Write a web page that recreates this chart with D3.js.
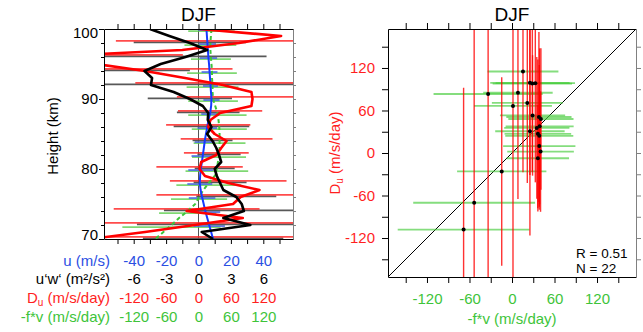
<!DOCTYPE html>
<html>
<head>
<meta charset="utf-8">
<script src="https://cdn.jsdelivr.net/npm/d3@7"></script>
<style>
body { margin: 0; background: #fff; }
svg { font-family: "Liberation Sans", Arial, sans-serif; }
</style>
</head>
<body>
<svg id="chart" width="643" height="332"></svg>
<script>
// profiles, one value per km from 100 down to 70
const HEIGHTS = d3.range(100, 69, -1);
const U  = [4.9, 5.2, 5.5, 5.8, 6.1, 6.5, 6.8, 7.1, 7.4, 7.7, 8.0, 7.8, 7.2, 6.2, 5.4, 4.6,
            3.85, 3.3, 2.7, 2.1, 1.4, 1.0, 0.8, 1.3, 2.2, 3.2, 4.2, 5.4, 6.6, 7.8, 9.0];
const UW = [-4.5, -2.7, -0.8, 0.8, -1.2, -3.5, -5.0, -4.3, -4.4, -2.3, -0.8, 0.4, 0.9, 0.86, 1.2, 0.8,
            1.3, 1.65, 1.9, 2.1, 1.5, 1.7, 2.0, 2.3, 3.5, 4.0, 4.2, 2.3, 4.8, 0.3, 1.35];
const DU = [2, 153, 75, -30, -300, -190, -99, -25, 45, 98, 100, 98, 40, 22, 18, 30,
            52, 42, 33, 5, 2, 12, 55, 113, 78, 64, -22, 82, -7, -99, -200];
const FV = [24, 23, 22, 22, 23, 24, 25, 25, 26, 26, 27, 31, 35, 37, 38.5, 39,
            39, 39, 38, 36, 34, 30, 19, 9, 1, -6, -20, -36, -50, -65, -80];

// error bars every 2 km
const BAR_HEIGHTS = d3.range(100, 69, -2);
const U_ERR  = [5, 5.3, 5.4, 4.9, 4.6, 5, 5.5, 6, 6.2, 7, 7.7, 7.7, 8.2, 9.2, 9.7, 10];
const UW_ERR = [3, 5.2, 7.5, 4.2, 14, 3.9, 2.9, 3.5, 1.85, 2.0, 1.85, 2.45, 3.7, 7.4, 10.5, 6.5];
const DU_ERR = [200, 228, 271, 162, 162, 140, 78, 78, 85, 60, 80, 108, 156, 135, 210, 420];
const FV_ERR = [43, 48, 37, 46, 48, 46, 54, 51, 48, 50, 58, 60, 52, 53, 91, 95];

// scatter: -f*v against Du
const SC_FV  = [15.5, 25.3, 28.7, 32.9, -33.7, 8.4, 1.4, 21.6, 29, 38, 40.8, 39, 35, 25.3, 36.5,
                38.5, 38.5, 40.3, 36.5, -14.5, -53.4, -68.3];
const SC_DU  = [115, 99, 98, 98.6, 83.3, 85, 66.5, 70.7, 53, 50.8, 48, 37.7, 35.4, 30.7, 27,
                24.3, 9.8, 2, -7.4, -26, -70.2, -108];
const SC_FV_ERR = [50, 56, 56, 56, 77, 49, 55, 50, 46, 46, 46, 48, 46, 49, 47, 48, 51, 47, 44, 63, 86, 93];
const SC_DU_ERR = [142, 130, 125, 140, 270, 150, 260, 113, 85, 120, 100, 110, 100, 147, 105,
                   100, 90, 85, 75, 133, 250, 200];

const U_TICKS = [-40, -20, 0, 20, 40];
const UW_TICKS = [-6, -3, 0, 3, 6];
const DU_TICKS = [-120, -60, 0, 60, 120];

const BLUE = "#2b4fe3";
const RED = "#ff1f1f";
const GREEN = "#3ec43a";

const svg = d3.select("#chart");

// ---------- left panel ----------
const yH = d3.scaleLinear().domain([70, 100]).range([239, 29]);
const xU = d3.scaleLinear().domain([-175 / 3, 175 / 3]).range([104, 293]);
const xUW = d3.scaleLinear().domain([-8.75, 8.75]).range([104, 293]);
const xDu = d3.scaleLinear().domain([-175, 175]).range([104, 293]);

svg.append("clipPath").attr("id", "clipL")
	.append("rect").attr("x", 104).attr("y", 29).attr("width", 189).attr("height", 210);

const gL = svg.append("g").attr("clip-path", "url(#clipL)");

gL.append("line")
	.attr("x1", xU(0)).attr("x2", xU(0))
	.attr("y1", 29).attr("y2", 239)
	.attr("stroke", "#555").attr("stroke-width", 1);

function bars(values, errs, scale, dh, color, width, opacity) {
	const rows = BAR_HEIGHTS.map(function (h, i) {
		return { h: h + dh, c: values[100 - h], e: errs[i] };
	});
	gL.append("g").selectAll("line")
		.data(rows)
		.join("line")
		.attr("x1", d => scale(d.c - d.e))
		.attr("x2", d => scale(d.c + d.e))
		.attr("y1", d => yH(d.h))
		.attr("y2", d => yH(d.h))
		.attr("stroke", color)
		.attr("stroke-width", width)
		.attr("opacity", opacity);
}

bars(FV, FV_ERR, xDu, -0.3, "#55cc44", 1.8, 0.75);
bars(U, U_ERR, xU, -0.15, "#4a6be6", 1.8, 0.9);
bars(UW, UW_ERR, xUW, 0.1, "#505050", 1.8, 0.95);
bars(DU, DU_ERR, xDu, 0.3, RED, 1.8, 0.8);

function profile(values, scale) {
	return d3.line()
		.x((d, i) => scale(values[i]))
		.y(d => yH(d))(HEIGHTS);
}

gL.append("path").attr("d", profile(FV, xDu))
	.attr("fill", "none").attr("stroke", GREEN).attr("stroke-width", 2)
	.attr("stroke-dasharray", "4,3");
gL.append("path").attr("d", profile(U, xU))
	.attr("fill", "none").attr("stroke", "#1538ff").attr("stroke-width", 2);
gL.append("path").attr("d", profile(DU, xDu))
	.attr("fill", "none").attr("stroke", "#ff0000").attr("stroke-width", 2.6)
	.attr("stroke-linejoin", "round");
gL.append("path").attr("d", profile(UW, xUW))
	.attr("fill", "none").attr("stroke", "#000").attr("stroke-width", 2.6)
	.attr("stroke-linejoin", "round");

// frame
const majorH = [70, 80, 90, 100];
const minorH = d3.range(72, 100, 2).filter(d => d % 10 !== 0);

let ax = svg.append("g").attr("transform", "translate(104,0)")
	.call(d3.axisLeft(yH).tickValues(majorH).tickSize(5).tickSizeOuter(0).tickPadding(1));
ax.selectAll("text")
	.attr("font-size", 15).attr("font-family", "Liberation Sans, Arial, sans-serif").attr("fill", "#000")
	.attr("dy", d => d === 100 ? "0.55em" : d === 70 ? "0.02em" : "0.32em");
svg.append("g").attr("transform", "translate(104,0)")
	.call(d3.axisLeft(yH).tickValues(minorH).tickSize(3).tickSizeOuter(0).tickFormat(""))
	.select(".domain").remove();
svg.append("g").attr("transform", "translate(293,0)").attr("color", "#808080")
	.call(d3.axisRight(yH).tickValues(d3.range(72, 100, 2)).tickSize(3).tickSizeOuter(0).tickFormat(""));
svg.append("g").attr("transform", "translate(0,29)")
	.call(d3.axisTop(xU).tickValues(d3.range(-50, 51, 10)).tickSize(5).tickSizeOuter(0).tickFormat(""));
svg.append("g").attr("transform", "translate(0,239)")
	.call(d3.axisBottom(xU).tickValues(d3.range(-50, 51, 10)).tickSize(5).tickSizeOuter(0).tickFormat(""));

svg.append("text").attr("x", 198.5).attr("y", 21).attr("text-anchor", "middle")
	.attr("font-size", 19).text("DJF");
svg.append("text").attr("transform", "translate(58,136) rotate(-90)")
	.attr("text-anchor", "middle").attr("font-size", 15).text("Height (km)");

// stacked tick rows under the left panel
function tickRow(scale, vals, y, color) {
	const g = svg.append("g").attr("transform", "translate(0," + y + ")")
		.call(d3.axisBottom(scale).tickValues(vals).tickSize(0).tickFormat(d => String(d)));
	g.select(".domain").remove();
	g.selectAll("text").attr("y", 0).attr("dy", 0)
		.attr("font-size", 15).attr("font-family", "Liberation Sans, Arial, sans-serif")
		.attr("fill", color);
}
tickRow(xU, U_TICKS, 265.5, BLUE);
tickRow(xUW, UW_TICKS, 284.2, "#000");
tickRow(xDu, DU_TICKS, 302.9, RED);
tickRow(xDu, DU_TICKS, 321.6, GREEN);

const rowLab = svg.append("g").attr("text-anchor", "end").attr("font-size", 15);
rowLab.append("text").attr("x", 110).attr("y", 265.5).attr("fill", BLUE).text("u (m/s)");
rowLab.append("text").attr("x", 110).attr("y", 284.2).attr("fill", "#000").text("u‘w‘ (m²/s²)");
const duLab = rowLab.append("text").attr("x", 110).attr("y", 302.9).attr("fill", RED);
duLab.append("tspan").text("D");
duLab.append("tspan").attr("font-size", 10).attr("dy", 3).text("u");
duLab.append("tspan").attr("dy", -3).text(" (m/s/day)");
rowLab.append("text").attr("x", 110).attr("y", 321.6).attr("fill", GREEN).text("-f*v (m/s/day)");

// ---------- right panel ----------
const xF = d3.scaleLinear().domain([-175, 175]).range([388, 636]);
const yD = d3.scaleLinear().domain([-175, 175]).range([277, 29]);

svg.append("clipPath").attr("id", "clipR")
	.append("rect").attr("x", 388).attr("y", 29).attr("width", 248).attr("height", 248);
const gR = svg.append("g").attr("clip-path", "url(#clipR)");

const pts = SC_FV.map((v, i) => ({ x: v, y: SC_DU[i], ex: SC_FV_ERR[i], ey: SC_DU_ERR[i] }));

gR.append("line")
	.attr("x1", xF(-175)).attr("y1", yD(-175))
	.attr("x2", xF(175)).attr("y2", yD(175))
	.attr("stroke", "#000").attr("stroke-width", 1);

gR.append("g").selectAll("line").data(pts).join("line")
	.attr("x1", d => xF(d.x - d.ex)).attr("x2", d => xF(d.x + d.ex))
	.attr("y1", d => yD(d.y)).attr("y2", d => yD(d.y))
	.attr("stroke", "#44cc3a").attr("stroke-width", 1.8).attr("opacity", 0.65);

gR.append("g").selectAll("line").data(pts).join("line")
	.attr("x1", d => xF(d.x)).attr("x2", d => xF(d.x))
	.attr("y1", d => yD(d.y - d.ey)).attr("y2", d => yD(d.y + d.ey))
	.attr("stroke", "#ff0000").attr("stroke-width", 1.4).attr("opacity", 0.8);

gR.append("g").selectAll("circle").data(pts).join("circle")
	.attr("cx", d => xF(d.x)).attr("cy", d => yD(d.y)).attr("r", 2)
	.attr("fill", "#000");

const ticks30 = d3.range(-150, 151, 30);
const lab60 = d => (d % 60 === 0 ? String(d) : "");

ax = svg.append("g").attr("transform", "translate(388,0)")
	.call(d3.axisLeft(yD).tickValues(ticks30).tickSize(6).tickSizeOuter(0).tickPadding(7).tickFormat(lab60));
ax.selectAll("text").attr("font-size", 15).attr("font-family", "Liberation Sans, Arial, sans-serif").attr("fill", RED);

ax = svg.append("g").attr("transform", "translate(0,277)")
	.call(d3.axisBottom(xF).tickValues(ticks30).tickSize(6).tickSizeOuter(0).tickPadding(10).tickFormat(lab60));
ax.selectAll("text").attr("font-size", 15).attr("font-family", "Liberation Sans, Arial, sans-serif").attr("fill", GREEN);

svg.append("g").attr("transform", "translate(0,29)")
	.call(d3.axisTop(xF).tickValues(ticks30).tickSize(6).tickSizeOuter(0).tickFormat(""));
svg.append("g").attr("transform", "translate(636,0)").attr("color", "#808080")
	.call(d3.axisRight(yD).tickValues(ticks30).tickSize(5).tickSizeOuter(0).tickFormat(""));

svg.append("text").attr("x", 512).attr("y", 21).attr("text-anchor", "middle")
	.attr("font-size", 19).text("DJF");

const yLab = svg.append("text").attr("transform", "translate(340,153) rotate(-90)")
	.attr("text-anchor", "middle").attr("font-size", 15).attr("fill", RED);
yLab.append("tspan").text("D");
yLab.append("tspan").attr("font-size", 10).attr("dy", 3).text("u");
yLab.append("tspan").attr("dy", -3).text(" (m/s/day)");

svg.append("text").attr("x", 512).attr("y", 324).attr("text-anchor", "middle")
	.attr("font-size", 15).attr("fill", GREEN).text("-f*v (m/s/day)");

svg.append("text").attr("x", 576).attr("y", 258).attr("font-size", 13.5).text("R = 0.51");
svg.append("text").attr("x", 576).attr("y", 273).attr("font-size", 13.5).text("N = 22");
</script>
</body>
</html>
